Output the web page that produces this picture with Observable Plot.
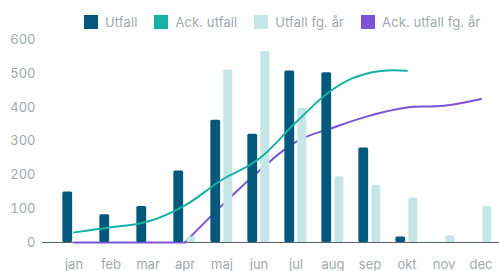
<!DOCTYPE html>
<html><head><meta charset="utf-8">
<script src="https://cdn.jsdelivr.net/npm/d3@7"></script>
<script src="https://cdn.jsdelivr.net/npm/@observablehq/plot@0.6"></script>
<style>
body{margin:0;background:#fff;font-family:Inter,"Noto Sans",sans-serif;overflow:hidden;width:499px;height:271px}
#legend{height:32px;display:flex;align-items:flex-start;padding-left:84px;box-sizing:border-box;padding-top:15px}
.item{display:flex;align-items:center;margin-right:17px;font-size:13px;color:#a3a8ae;line-height:14px;white-space:nowrap;letter-spacing:0.1px}
.sw{width:14px;height:14px;margin-right:7px;flex:none}
#chart svg{overflow:hidden;display:block}
</style></head><body>
<div id="legend"></div><div id="chart"></div>
<script>
const months = ["jan","feb","mar","apr","maj","jun","jul","aug","sep","okt","nov","dec"];
const seriesNames = ["Utfall","Ack. utfall","Utfall fg. år","Ack. utfall fg. år"];
const seriesColors = ["#03587b","#17b2a5","#c5e6e6","#7c52d9"];
const utfall      = [150, 82, 107, 212, 362, 321, 508, 503, 280, 16, null, null];
const ackUtfall   = [30, 45, 62, 110, 186, 248, 356, 454, 503, 509, null, null];
const utfallFg    = [0, 0, 0, 16, 511, 566, 398, 195, 170, 131, 20, 107];
const ackUtfallFg = [0, 0, 0, 0, 110, 212, 298, 340, 376, 400, 405, 425];
const yTicks = [0, 100, 200, 300, 400, 500, 600];

const rows = months.map((m, i) => ({
  month: m, utfall: utfall[i], ack: ackUtfall[i], fg: utfallFg[i], ackFg: ackUtfallFg[i]
}));
// flat start (zeros) and the rising part drawn as two pieces so the smooth curve does not dip under 0
const firstRise = ackUtfallFg.findIndex(v => v > 0) - 1;
const fgLineRows = [
  ...rows.slice(0, firstRise + 1).map(r => ({...r, part: "flat"})),
  ...rows.slice(firstRise).map(r => ({...r, part: "rise"}))
];

const legend = document.getElementById("legend");
seriesNames.forEach((n, i) => {
  const it = document.createElement("div"); it.className = "item";
  const sw = document.createElement("span"); sw.className = "sw"; sw.style.background = seriesColors[i];
  const t = document.createElement("span"); t.textContent = n;
  it.appendChild(sw); it.appendChild(t); legend.appendChild(it);
});

const step = 37.7;
const half = step / 2;
const curve = d3.curveCardinal.tension(-0.2);

const chart = Plot.plot({
  width: 499, height: 239,
  marginTop: 7.5, marginBottom: 29, marginLeft: 42, marginRight: 0,
  style: {fontFamily: "Inter, 'Noto Sans', sans-serif", fontSize: "13px", color: "#a3a8ae", background: "transparent"},
  x: {type: "band", domain: months, range: [70 - half, 70 - half + 12 * step], padding: 0, label: null, tickSize: 0, tickPadding: 17},
  y: {domain: [0, 600], ticks: yTicks, label: null, tickSize: 0, tickPadding: 7},
  marks: [
    Plot.ruleY([0], {stroke: "#56606b", strokeWidth: 1}),
    Plot.line(fgLineRows, {x: "month", y: "ackFg", z: "part", stroke: seriesColors[3], strokeWidth: 2, curve}),
    Plot.barY(rows, {x: "month", y: "utfall", fill: seriesColors[0], insetLeft: half - 11.5, insetRight: half + 1, rx: 1.5}),
    Plot.barY(rows, {x: "month", y: "fg", fill: seriesColors[2], insetLeft: half + 1.5, insetRight: half - 11.2, rx: 1.5}),
    Plot.line(rows, {x: "month", y: "ack", stroke: seriesColors[1], strokeWidth: 2, curve})
  ]
});
document.getElementById("chart").appendChild(chart);
</script>
</body></html>
